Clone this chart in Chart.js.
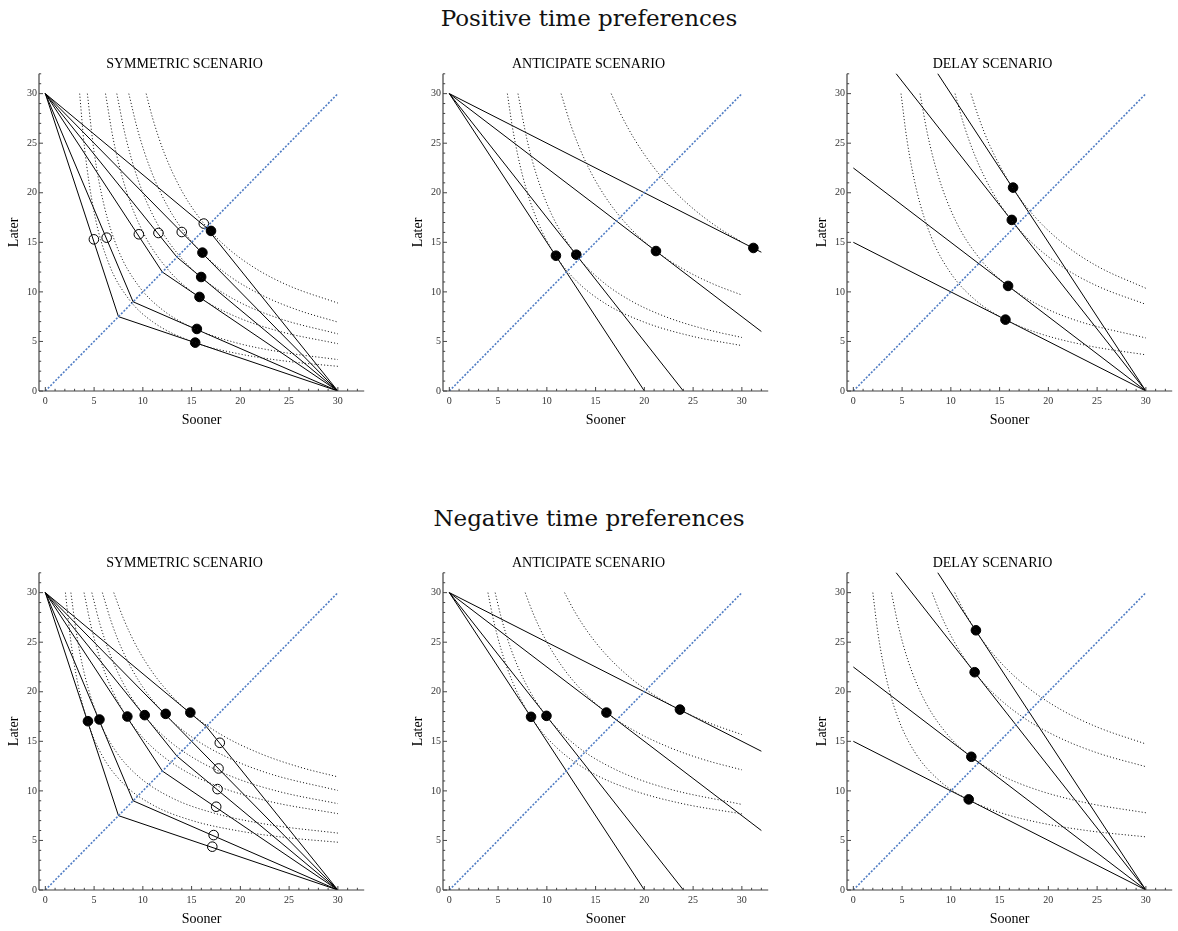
<!DOCTYPE html>
<html><head><meta charset="utf-8">
<script src="https://cdn.jsdelivr.net/npm/chart.js@4.4.1/dist/chart.umd.min.js"></script>
<style>
html,body{margin:0;padding:0;background:#fff;}
body{width:1178px;height:931px;position:relative;overflow:hidden;}
.main{position:absolute;left:0;width:1178px;text-align:center;font-family:'DejaVu Serif',serif;font-size:23px;line-height:28px;color:#111;}
canvas{position:absolute;}
</style></head><body>
<div class="main" style="top:4px">Positive time preferences</div>
<div class="main" style="top:504px">Negative time preferences</div>
<canvas id="p1" width="370" height="375" style="left:0px;top:56px"></canvas>
<canvas id="p2" width="370" height="375" style="left:404px;top:56px"></canvas>
<canvas id="p3" width="370" height="375" style="left:808px;top:56px"></canvas>
<canvas id="p4" width="370" height="375" style="left:0px;top:555px"></canvas>
<canvas id="p5" width="370" height="375" style="left:404px;top:555px"></canvas>
<canvas id="p6" width="370" height="375" style="left:808px;top:555px"></canvas>
<script>
// ---------- data ----------
const xTickLabels = [0, 5, 10, 15, 20, 25, 30];
const yTickLabels = [0, 5, 10, 15, 20, 25, 30];
const diagonal = [[0, 0], [30, 30]];

// symmetric scenario: kinks on the diagonal of budget lines (0,30)-(k,k)-(30,0)
const symKinks = [7.5, 9, 12, 13.5, 15, 16.5];
// anticipate scenario: lines from (0,30) to these end points
const antEndX = [20, 24, 32, 32];
const antEndY = [0, 0, 6, 14];
// delay scenario: lines from (0,intercept) to (30,0)
const delayIntercepts = [15, 22.5, 37.5, 45];

// Positive time preferences
const posSymOpenX = [4.98, 6.29, 9.59, 11.6, 13.99, 16.25];
const posSymOpenY = [15.3, 15.47, 15.81, 15.94, 16.04, 16.89];
const posSymFilledX = [15.37, 15.54, 15.81, 15.98, 16.11, 16.99];
const posSymFilledY = [4.88, 6.26, 9.49, 11.5, 13.96, 16.15];
const posAntX = [10.93, 13.02, 21.19, 31.18];
const posAntY = [13.65, 13.75, 14.12, 14.43];
const posDelayX = [15.6, 15.87, 16.25, 16.38];
const posDelayY = [7.2, 10.6, 17.26, 20.52];

// Negative time preferences
const negSymFilledX = [4.37, 5.55, 8.41, 10.19, 12.34, 14.87];
const negSymFilledY = [17.03, 17.2, 17.5, 17.64, 17.77, 17.9];
const negSymOpenX = [17.12, 17.26, 17.52, 17.66, 17.76, 17.89];
const negSymOpenY = [4.37, 5.54, 8.4, 10.18, 12.26, 14.85];
const negAntX = [8.38, 9.96, 16.11, 23.65];
const negAntY = [17.47, 17.57, 17.9, 18.2];
const negDelayX = [11.83, 12.1, 12.44, 12.57];
const negDelayY = [9.14, 13.44, 21.97, 26.2];

// indifference curves (dotted)
const posSymCurves = [
  [[3.52,30],[4,24.71],[5,18.05],[6.5,12.88],[8.5,9.35],[11,6.99],[15.36,4.88],[20,3.72],[25,2.97],[30,2.49]],
  [[4.31,30],[5,24.13],[6,18.82],[7.5,14.17],[9.5,10.69],[12,8.2],[15.47,6.22],[19.5,4.88],[24,3.96],[30,3.17]],
  [[6.17,30],[7,25.23],[8.2,20.53],[10,16.05],[12.5,12.34],[15.79,9.47],[19.5,7.52],[24,6.02],[30,4.77]],
  [[7.33,30],[8.2,25.79],[9.5,21.33],[11.3,17.21],[13.5,13.93],[15.96,11.49],[19.5,9.17],[24,7.31],[30,5.76]],
  [[8.56,30],[9.5,26.22],[10.8,22.33],[12.5,18.7],[14.5,15.69],[16.05,13.95],[19,11.51],[22.5,9.53],[26,8.13],[30,6.95]],
  [[10.34,30],[11,27.53],[12.2,24.0],[14,20.18],[16.25,16.9],[18.5,14.59],[21.5,12.4],[25,10.61],[30,8.87]]
];
const posAntCurves = [
  [[5.95,30],[6.5,26.43],[7.5,21.76],[9,17.23],[10.85,13.73],[13,11.13],[16,8.82],[20,6.94],[25,5.5],[30,4.58]],
  [[7.04,30],[8,25.21],[9,21.61],[10.5,17.79],[13,13.75],[15.5,11.2],[18.5,9.17],[22,7.56],[26,6.3],[30,5.4]],
  [[11.46,30],[12.5,26.71],[14,23.08],[16,19.58],[18.5,16.48],[21.18,14.12],[24,12.29],[27,10.82],[30,9.68]],
  [[16.6,30],[17.5,28.08],[19,25.38],[21,22.51],[23,20.24],[25,18.4],[27.5,16.53],[30,15.03]]
];
const posDelayCurves = [
  [[4.89,30],[5.5,25.33],[6.5,20.2],[8,15.51],[10,11.87],[12.5,9.19],[15.6,7.2],[19,5.83],[24,4.58],[30,3.65]],
  [[6.84,30],[7.6,25.95],[8.7,21.72],[10.5,17.16],[13,13.31],[15.87,10.6],[19,8.68],[23,7.07],[30,5.35]],
  [[10.43,30],[11.3,26.96],[12.5,23.67],[14.2,20.2],[16.22,17.23],[18.5,14.79],[21.5,12.49],[25,10.6],[30,8.74]],
  [[12.06,30],[12.8,27.75],[14,24.76],[16.36,20.46],[18.5,17.7],[21.5,14.9],[25,12.6],[30,10.36]]
];
const negSymCurves = [
  [[2.06,30],[2.6,25.19],[3.3,20.97],[4.35,16.95],[5.8,13.61],[8,10.73],[11,8.59],[15,7.02],[20,5.93],[25,5.26],[30,4.82]],
  [[2.62,30],[3.2,25.84],[4,21.83],[5.52,17.11],[7.2,14.04],[9.5,11.5],[13,9.28],[17.5,7.7],[23,6.58],[30,5.74]],
  [[3.97,30],[4.7,26.57],[5.7,23.08],[6.9,20.07],[8.37,17.45],[10.5,14.85],[13.5,12.49],[17.5,10.54],[23,8.93],[30,7.7]],
  [[4.77,30],[5.6,26.82],[6.7,23.63],[8.2,20.47],[10.15,17.6],[12.5,15.21],[15.5,13.14],[19.5,11.3],[24,9.92],[30,8.71]],
  [[5.85,30],[6.8,26.94],[8,23.99],[9.8,20.76],[12.29,17.71],[15,15.45],[18.5,13.46],[23,11.73],[30,10.04]],
  [[7.02,30],[8,27.41],[9.3,24.67],[11,21.95],[13,19.55],[14.83,17.87],[18,15.69],[22,13.78],[26,12.42],[30,11.41]]
];
const negAntCurves = [
  [[3.96,30],[4.5,27.36],[5.3,24.3],[6.5,20.95],[8.37,17.44],[11,14.37],[14.5,11.9],[19,10.0],[24,8.69],[30,7.68]],
  [[4.7,30],[5.3,27.57],[6.3,24.36],[7.8,20.9],[9.95,17.56],[13,14.57],[17,12.17],[22,10.34],[30,8.63]],
  [[7.78,30],[8.6,27.89],[9.8,25.38],[11.5,22.64],[13.7,20.02],[16.13,17.9],[19,16.05],[22.5,14.41],[26,13.18],[30,12.12]],
  [[11.82,30],[12.8,28.18],[14.2,26.03],[16,23.82],[18.5,21.46],[21,19.67],[23.63,18.19],[26.5,16.91],[30,15.68]]
];
const negDelayCurves = [
  [[2.0,30],[2.5,26.06],[3.3,21.72],[4.5,17.57],[6.3,13.91],[8.8,11.06],[11.78,9.11],[15,7.83],[19,6.81],[24,5.99],[30,5.36]],
  [[3.91,30],[4.6,26.71],[5.6,23.17],[7.2,19.32],[9.5,15.86],[12.09,13.44],[15,11.65],[19,10.05],[24,8.77],[30,7.79]],
  [[8.08,30],[9,27.72],[10,25.67],[11.2,23.65],[12.43,21.96],[14.5,19.72],[17.5,17.36],[21,15.42],[25,13.84],[30,12.44]],
  [[10.4,30],[11.2,28.42],[12.55,26.17],[14,24.21],[16,22.05],[18.5,19.97],[21.5,18.08],[25,16.44],[30,14.73]]
];

// ---------- helpers ----------
const SERIF = "'Liberation Serif','Times New Roman',serif";
Chart.defaults.font.family = SERIF;
const toXY = arr => arr.map(p => ({x: p[0], y: p[1]}));
const zipXY = (xs, ys) => xs.map((x, i) => ({x, y: ys[i]}));

const symLines = symKinks.map(k => [[0, 30], [k, k], [30, 0]]);
const antLines = antEndX.map((x, i) => [[0, 30], [x, antEndY[i]]]);
const delayLines = delayIntercepts.map(c => [[0, c], [30, 0]]);

const axesPlugin = {
  id: 'mmaAxes',
  afterDraw(chart) {
    const {ctx, scales: {x, y}} = chart;
    const y0 = y.getPixelForValue(0);
    const xl = x.left;
    ctx.save();
    ctx.strokeStyle = '#444';
    ctx.lineWidth = 1.2;
    ctx.beginPath();
    ctx.moveTo(x.left, y0); ctx.lineTo(x.right, y0);
    ctx.moveTo(xl, y.top); ctx.lineTo(xl, y0);
    ctx.stroke();
    ctx.lineWidth = 1;
    ctx.beginPath();
    for (let v = 0; v <= 32; v++) {
      const len = v % 5 === 0 ? 4 : 2.2;
      const px = x.getPixelForValue(v);
      ctx.moveTo(px, y0); ctx.lineTo(px, y0 - len);
      const py = y.getPixelForValue(v);
      ctx.moveTo(xl, py); ctx.lineTo(xl + len, py);
    }
    ctx.stroke();
    ctx.restore();
  }
};

function curveDS(c) {
  return {data: toXY(c), showLine: true, borderColor: '#1a1a1a', borderWidth: 1,
    borderDash: [1.1, 2.1], pointRadius: 0, cubicInterpolationMode: 'monotone', fill: false};
}
function lineDS(l) {
  return {data: toXY(l), showLine: true, borderColor: '#000', borderWidth: 1, pointRadius: 0, tension: 0};
}
function pointDS(xs, ys, fillColor) {
  return {data: zipXY(xs, ys), showLine: false, pointRadius: 4.8, pointBackgroundColor: fillColor,
    pointBorderColor: '#000', pointBorderWidth: 1};
}

function makePanel(id, title, curves, lines, pointSets) {
  const datasets = [];
  curves.forEach(c => datasets.push(curveDS(c)));
  datasets.push({data: toXY(diagonal), showLine: true, borderColor: '#4f7cc4', borderWidth: 1.6,
    borderDash: [2, 1.6], pointRadius: 0});
  lines.forEach(l => datasets.push(lineDS(l)));
  pointSets.forEach(ps => datasets.push(pointDS(ps[0], ps[1], ps[2])));
  new Chart(document.getElementById(id), {
    type: 'scatter',
    data: {datasets},
    plugins: [axesPlugin],
    options: {
      responsive: false, animation: false, devicePixelRatio: 1, events: [],
      layout: {padding: {left: 0, right: 1, top: 0, bottom: 0}},
      plugins: {
        legend: {display: false}, tooltip: {enabled: false},
        title: {display: true, text: title, color: '#000',
          font: {family: SERIF, size: 14, weight: 'normal'}, padding: {top: 0, bottom: 1}}
      },
      scales: {
        x: {type: 'linear', min: -0.65, max: 32.7,
          border: {display: false}, grid: {display: false, drawTicks: false},
          afterBuildTicks: s => { s.ticks = xTickLabels.map(v => ({value: v})); },
          afterFit: s => { s.height = 40; },
          ticks: {padding: 4, color: '#333', font: {family: SERIF, size: 10}},
          title: {display: true, text: 'Sooner', color: '#000', font: {family: SERIF, size: 14},
            padding: {top: 0, bottom: 2.4}}},
        y: {type: 'linear', min: 0, max: 32,
          border: {display: false}, grid: {display: false, drawTicks: false},
          afterBuildTicks: s => { s.ticks = yTickLabels.map(v => ({value: v})); },
          afterFit: s => { s.width = 39; },
          ticks: {padding: 2, color: '#333', font: {family: SERIF, size: 10}},
          title: {display: true, text: 'Later', color: '#000', font: {family: SERIF, size: 14},
            padding: {top: 5.5, bottom: 0}}}
      }
    }
  });
}

makePanel('p1', 'SYMMETRIC SCENARIO', posSymCurves, symLines,
  [[posSymOpenX, posSymOpenY, '#fff'], [posSymFilledX, posSymFilledY, '#000']]);
makePanel('p2', 'ANTICIPATE SCENARIO', posAntCurves, antLines, [[posAntX, posAntY, '#000']]);
makePanel('p3', 'DELAY SCENARIO', posDelayCurves, delayLines, [[posDelayX, posDelayY, '#000']]);
makePanel('p4', 'SYMMETRIC SCENARIO', negSymCurves, symLines,
  [[negSymFilledX, negSymFilledY, '#000'], [negSymOpenX, negSymOpenY, '#fff']]);
makePanel('p5', 'ANTICIPATE SCENARIO', negAntCurves, antLines, [[negAntX, negAntY, '#000']]);
makePanel('p6', 'DELAY SCENARIO', negDelayCurves, delayLines, [[negDelayX, negDelayY, '#000']]);
</script>
</body></html>
